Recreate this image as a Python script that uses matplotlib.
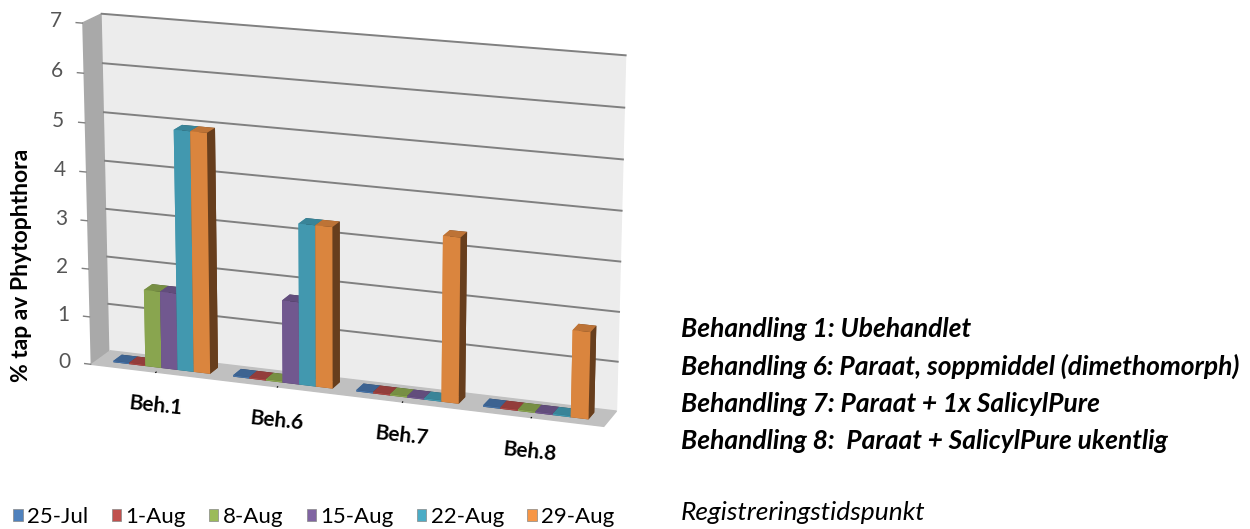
import numpy as np
import matplotlib
matplotlib.use("Agg")
import matplotlib.pyplot as plt
from matplotlib.patches import Patch
from mpl_toolkits.mplot3d import proj3d

behandlinger = ["Beh.1", "Beh.6", "Beh.7", "Beh.8"]
datoer = ["25-Jul", "1-Aug", "8-Aug", "15-Aug", "22-Aug", "29-Aug"]
farger = ["#4F81BD", "#C0504D", "#9BBB59", "#8064A2", "#4BACC6", "#F79646"]
# % tap av Phytophthora, en liste per registreringsdato (Beh.1, 6, 7, 8)
jul25 = [0, 0, 0, 0]
aug01 = [0, 0, 0, 0]
aug08 = [1.6, 0, 0, 0]
aug15 = [1.6, 1.7, 0, 0]
aug22 = [4.95, 3.3, 0, 0]
aug29 = [4.95, 3.3, 3.35, 1.75]
serier = [jul25, aug01, aug08, aug15, aug22, aug29]
yticks = [0, 1, 2, 3, 4, 5, 6, 7]
forklaring = ["Behandling 1: Ubehandlet",
              "Behandling 6: Paraat, soppmiddel (dimethomorph)",
              "Behandling 7: Paraat + 1x SalicylPure",
              "Behandling 8:  Paraat + SalicylPure ukentlig"]

plt.rcParams['font.family'] = ['Lato', 'DejaVu Sans']

fig = plt.figure(figsize=(12.5, 5.29), dpi=100)
# 3D-aksen blir kvadratisk, så den gjøres stor for ikke å klippe søylene
ax = fig.add_axes([-0.03, -0.1361, 0.6, 1.4178], projection='3d')
ax.set_proj_type('persp', focal_length=0.75)

bw = 0.135
x0 = np.arange(len(behandlinger))
for j, (vals, c) in enumerate(zip(serier, farger)):
    xs = x0 + (j - 3) * bw
    dz = np.maximum(np.array(vals, float), 0.03)
    ax.bar3d(xs, np.full(len(xs), 0.3), np.zeros(len(xs)), bw, 0.45, dz,
             color=c, shade=True, edgecolor='none')

xmin, xmax = -0.55, 3.55
# gridlinjer på bakveggen og små streker ved verdiaksen
ax.grid(False)
for z in yticks:
    if z > 0:
        ax.plot([xmin, xmax], [1, 1], [z, z], color='#808080', lw=1.4)
    ax.plot([xmin - 0.05, xmin], [0, 0], [z, z], color='#808080', lw=1)

ax.set_xlim(xmin, xmax)
ax.set_ylim(0, 1)
ax.set_zlim(0, 7)
ax.set_box_aspect((525, 45, 345), zoom=0.856)
ax.view_init(elev=16, azim=-70)

ax.xaxis.set_pane_color('#a9a9a9')
ax.yaxis.set_pane_color('#ececec')
ax.zaxis.set_pane_color('#c0c0c0')
ax.set_zticks([])
ax.set_xticks(x0)
ax.set_xticklabels(behandlinger, fontsize=15, fontweight='bold', rotation=-6)
ax.tick_params(axis='x', pad=9)
ax.set_yticks([])
for a in (ax.xaxis, ax.yaxis, ax.zaxis):
    a.line.set_color((0, 0, 0, 0))
    a.set_tick_params(length=0)

# verdiakse: tall langs venstre forkant
fig.canvas.draw()
for z in yticks:
    px, py, _ = proj3d.proj_transform(xmin - 0.17, 0, z, ax.get_proj())
    ax.text2D(px, py, str(z), transform=ax.transData, fontsize=15,
              color='#555555', ha='right', va='center')

fig.text(22 / 1250, 1 - 265 / 529, '% tap av Phytophthora', rotation=90,
         fontsize=16.5, fontweight='bold', ha='center', va='center')

handles = [Patch(facecolor=c, edgecolor='#888888', lw=0.5) for c in farger]
fig.legend(handles, datoer, loc='center left', bbox_to_anchor=(0.0, 1 - 517 / 529),
           ncol=6, frameon=False, fontsize=16, handlelength=0.42, handleheight=0.42,
           handletextpad=0.2, columnspacing=1.05, borderaxespad=0.2)

for i, t in enumerate(forklaring):
    fig.text(681 / 1250, 1 - (329 + 37.3 * i) / 529, t, fontsize=19,
             fontweight='bold', style='italic', va='center')
fig.text(681 / 1250, 1 - 513 / 529, "Registreringstidspunkt", fontsize=19,
         style='italic', va='center')

fig.savefig("out.png", dpi=100)
